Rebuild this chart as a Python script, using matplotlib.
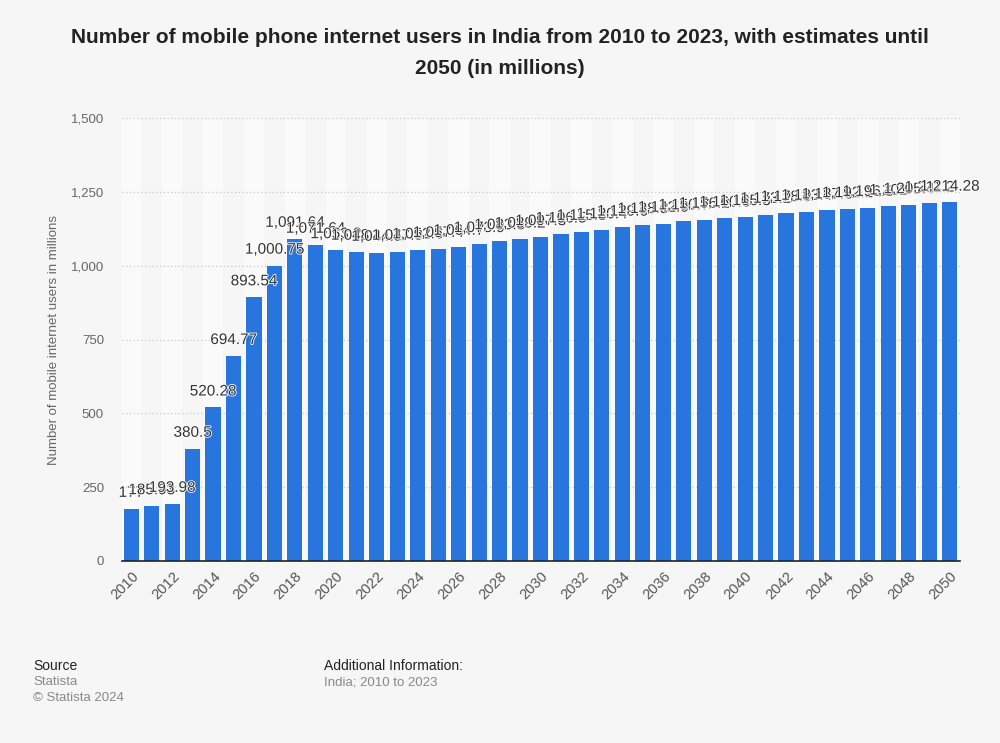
import matplotlib
matplotlib.use("Agg")
import matplotlib.pyplot as plt
import matplotlib.patheffects as pe

plt.rcParams["font.family"] = ["Liberation Sans", "DejaVu Sans"]

years = list(range(2010, 2051))
values = [177, 185.93, 193.98, 380.5, 520.28, 694.77, 893.54, 1000.75, 1091.64, 1071.64,
          1053.2, 1048.1, 1044.5, 1047.9, 1052.6, 1057.4, 1064.7, 1073.9, 1083.5, 1089.2,
          1097.3, 1106.5, 1115.3, 1120.4, 1129.6, 1138.3, 1142.9, 1150.7, 1156.2, 1160.6,
          1165.3, 1173.2, 1178.9, 1183.4, 1187.6, 1192.1, 1196.5, 1201.0, 1205.4, 1211.2,
          1214.28]
tick_labels = [str(y) for y in years]
yticks = [0, 250, 500, 750, 1000, 1250, 1500]

title = "Number of mobile phone internet users in India from 2010 to 2023, with estimates until\n2050 (in millions)"
ylabel = "Number of mobile internet users in millions"

bg = "#f6f6f6"
bar_color = "#2876dd"

fig = plt.figure(figsize=(10, 7.43), dpi=100, facecolor=bg)
ax = fig.add_axes([0.122, 0.245, 0.838, 0.596])
ax.set_facecolor(bg)

n = len(years)
x = list(range(n))
for i in range(0, n, 2):
    ax.axvspan(i - 0.5, i + 0.5, color="white", alpha=0.45, zorder=0, lw=0)

ax.bar(x, values, width=0.74, color=bar_color, zorder=3)

def fmt(v):
    s = f"{v:,.2f}"
    s = s.rstrip("0").rstrip(".") if "." in s else s
    return s

for xi, v in zip(x, values):
    ax.text(xi, v + 30, fmt(v), ha="center", va="bottom", fontsize=11,
            color="#333333", zorder=5,
            path_effects=[pe.withStroke(linewidth=1.2, foreground="white")])

ax.set_ylim(0, 1500)
ax.set_xlim(-0.45, n - 0.5)
ax.set_yticks(yticks)
ax.set_yticklabels([f"{t:,}" for t in yticks], fontsize=9.5, color="#666666")
ax.set_xticks(x[::2])
ax.set_xticklabels(tick_labels[::2], rotation=45, ha="right", rotation_mode="anchor",
                   fontsize=10.5, color="#555555")
ax.tick_params(axis="y", length=0, pad=13)
ax.tick_params(axis="x", length=0, pad=6)
for sp in ["top", "right", "left"]:
    ax.spines[sp].set_visible(False)
ax.spines["bottom"].set_color("#222222")
ax.spines["bottom"].set_linewidth(1.2)
ax.spines["bottom"].set_zorder(4)
ax.grid(axis="y", color="#c8c8c8", linestyle=(0, (1, 2)), linewidth=0.9, zorder=1)
ax.set_axisbelow(True)
ax.set_ylabel(ylabel, fontsize=9.5, color="#666666")
ax.yaxis.set_label_coords(-0.074, 0.5)

fig.text(0.5, 0.962, title, ha="center", va="top", fontsize=15, fontweight="bold",
         color="#222222", linespacing=1.8)

fig.text(0.033, 0.104, "Source", fontsize=10, color="#222222", va="center")
fig.text(0.033, 0.082, "Statista", fontsize=9.5, color="#888888", va="center")
fig.text(0.033, 0.061, "© Statista 2024", fontsize=9.5, color="#888888", va="center")
fig.text(0.324, 0.104, "Additional Information:", fontsize=10, color="#222222", va="center")
fig.text(0.324, 0.082, "India; 2010 to 2023", fontsize=9.5, color="#888888", va="center")

fig.savefig("out.png", dpi=100, facecolor=bg)
